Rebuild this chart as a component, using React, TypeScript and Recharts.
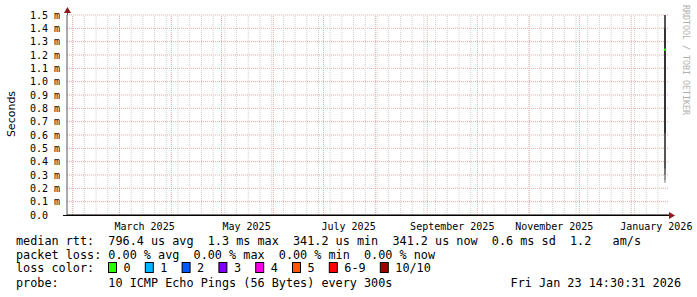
import React from "react";
import {
  ComposedChart,
  Area,
  Line,
  XAxis,
  YAxis,
  CartesianGrid,
  ReferenceLine,
} from "recharts";

const DAY = 86400000;
const END_TIME = Date.UTC(2026, 0, 23, 14, 30, 31);
const START_TIME = END_TIME - 360 * DAY;

// measurement time window (start/end of the only data column)
const sampleTimes = [Date.UTC(2026, 0, 20, 14, 30), Date.UTC(2026, 0, 21, 19, 0)];
// smoke bands (ms): sorted ping ranges, outermost first
const band1 = [0.24, 1.5];
const band2 = [0.26, 1.5];
const band3 = [0.3, 1.5];
const band4 = [0.35, 1.5];
const band5 = [0.615, 1.4];
const medianValues = [1.24, 1.24];

const bandColors = ["#bdbdbd", "#9a9a9a", "#777777", "#555555", "#333333"];

const yTicks = [0, 0.1, 0.2, 0.3, 0.4, 0.5, 0.6, 0.7, 0.8, 0.9, 1.0, 1.1, 1.2, 1.3, 1.4, 1.5];

const monthStarts: [number, number][] = [
  [2025, 1], [2025, 2], [2025, 3], [2025, 4], [2025, 5], [2025, 6],
  [2025, 7], [2025, 8], [2025, 9], [2025, 10], [2025, 11], [2026, 0],
];
const labelMonths: [number, number][] = [
  [2025, 2], [2025, 4], [2025, 6], [2025, 8], [2025, 10], [2026, 0],
];
const xLabels = ["March 2025", "May 2025", "July 2025", "September 2025", "November 2025", "January 2026"];

const lossItems = [
  { label: "0", color: "#26ff00" },
  { label: "1", color: "#00b8ff" },
  { label: "2", color: "#0059ff" },
  { label: "3", color: "#7e00ff" },
  { label: "4", color: "#ff00ea" },
  { label: "5", color: "#ff5500" },
  { label: "6-9", color: "#ff0000" },
  { label: "10/10", color: "#a10000" },
];

const legendRow1 = "median rtt:  796.4 us avg  1.3 ms max  341.2 us min  341.2 us now  0.6 ms sd  1.2   am/s";
const legendRow2 = "packet loss: 0.00 % avg  0.00 % max  0.00 % min  0.00 % now";
const legendRow3 = "loss color:";
const legendRow4 = "probe:       10 ICMP Echo Pings (56 Bytes) every 300s";
const dateStamp = "Fri Jan 23 14:30:31 2026";

const data = sampleTimes.map((t, i) => ({
  t,
  b1: band1,
  b2: band2,
  b3: band3,
  b4: band4,
  b5: band5,
  median: medianValues[i],
}));

const monthTimes = monthStarts.map(([y, m]) => Date.UTC(y, m, 1));
const labelTimes = labelMonths.map(([y, m]) => Date.UTC(y, m, 1) + 15 * DAY);
const weekTimes: number[] = [];
for (let t = Date.UTC(2025, 1, 1); t < END_TIME; t += 7 * DAY) weekTimes.push(t);

const MONO = "'DejaVu Sans Mono', monospace";
const CHAR_W = 7.1;

const YTick = (props: any) => {
  const { x, y, payload } = props;
  const v = payload.value as number;
  const txt = v === 0 ? "0.0" : `${v.toFixed(1)} m`;
  return (
    <text x={x - 29} y={y + 3.5} fontFamily={MONO} fontSize={10} fill="#000" textAnchor="start">
      {txt}
    </text>
  );
};

const XTick = (props: any) => {
  const { x, y, payload } = props;
  const idx = labelTimes.indexOf(payload.value);
  return (
    <text x={x} y={y + 7} fontFamily={MONO} fontSize={10} fill="#000" textAnchor="middle">
      {idx >= 0 ? xLabels[idx] : ""}
    </text>
  );
};

export default function App() {
  let cursor = 108;
  const lossEls = lossItems.map((it, i) => {
    const bx = cursor;
    cursor += 8 + 7.5 + it.label.length * CHAR_W + 2 * CHAR_W;
    return (
      <g key={i}>
        <rect x={bx + 0.5} y={262.5} width={8} height={10} fill={it.color} stroke="#000" strokeWidth={1} />
        <text x={bx + 15.5} y={272} fontFamily={MONO} fontSize={11.8} fill="#000" style={{ whiteSpace: "pre" }}>
          {it.label}
        </text>
      </g>
    );
  });

  return (
    <div style={{ position: "absolute", left: 0, top: 0, width: 697, height: 297, background: "#fff" }}>
      <ComposedChart
        width={697}
        height={297}
        data={data}
        margin={{ top: 15, right: 28, bottom: 0, left: 0 }}
      >
        <CartesianGrid
          vertical={false}
          horizontal={true}
          stroke="#eba3a3"
          strokeDasharray="1 1"
        />
        {weekTimes.map((t) => (
          <ReferenceLine key={"w" + t} x={t} stroke="#cfcfcf" strokeDasharray="1 1" />
        ))}
        {monthTimes.map((t) => (
          <ReferenceLine key={"m" + t} x={t} stroke="#eeaaaa" strokeDasharray="1 1" />
        ))}
        <XAxis
          dataKey="t"
          type="number"
          domain={[START_TIME, END_TIME]}
          allowDataOverflow
          ticks={labelTimes}
          tick={<XTick />}
          tickLine={false}
          axisLine={{ stroke: "#000", strokeWidth: 1 }}
          height={82}
          interval={0}
        />
        <YAxis
          type="number"
          domain={[0, 1.5]}
          allowDataOverflow
          ticks={yTicks}
          tick={<YTick />}
          tickLine={false}
          axisLine={{ stroke: "#555", strokeWidth: 1 }}
          width={67}
          interval={0}
        />
        <Area dataKey="b1" type="linear" stroke="none" fill={bandColors[0]} fillOpacity={1} isAnimationActive={false} dot={false} activeDot={false} />
        <Area dataKey="b2" type="linear" stroke="none" fill={bandColors[1]} fillOpacity={1} isAnimationActive={false} dot={false} activeDot={false} />
        <Area dataKey="b3" type="linear" stroke="none" fill={bandColors[2]} fillOpacity={1} isAnimationActive={false} dot={false} activeDot={false} />
        <Area dataKey="b4" type="linear" stroke="none" fill={bandColors[3]} fillOpacity={1} isAnimationActive={false} dot={false} activeDot={false} />
        <Area dataKey="b5" type="linear" stroke="none" fill={bandColors[4]} fillOpacity={1} isAnimationActive={false} dot={false} activeDot={false} />
        <Line dataKey="median" type="linear" stroke="#26ff00" strokeWidth={2} dot={false} activeDot={false} isAnimationActive={false} />
      </ComposedChart>
      <svg
        width={697}
        height={297}
        style={{ position: "absolute", left: 0, top: 0, pointerEvents: "none" }}
      >
        {/* axis arrows */}
        <line x1={67.5} y1={15} x2={67.5} y2={10} stroke="#555" />
        <polygon points="64,13 71,13 67.5,7" fill="#8b1a1a" />
        <line x1={63} y1={215.5} x2={669} y2={215.5} stroke="#000" />
        <polygon points="669,212 669,219 675,215.5" fill="#8b1a1a" />
        <text
          x={15}
          y={114}
          transform="rotate(-90, 15, 114)"
          fontFamily="'DejaVu Sans', sans-serif"
          fontSize={11}
          textAnchor="middle"
          fill="#000"
        >
          Seconds
        </text>
        <text
          x={683}
          y={5}
          transform="rotate(90, 683, 5)"
          fontFamily={MONO}
          fontSize={8.3}
          fill="#b0b0b0"
          textAnchor="start"
        >
          RRDTOOL / TOBI OETIKER
        </text>
        <text x={16} y={245} fontFamily={MONO} fontSize={11.8} fill="#000" style={{ whiteSpace: "pre" }}>
          {legendRow1}
        </text>
        <text x={16} y={259} fontFamily={MONO} fontSize={11.8} fill="#000" style={{ whiteSpace: "pre" }}>
          {legendRow2}
        </text>
        <text x={16} y={272} fontFamily={MONO} fontSize={11.8} fill="#000" style={{ whiteSpace: "pre" }}>
          {legendRow3}
        </text>
        {lossEls}
        <text x={16} y={287} fontFamily={MONO} fontSize={11.8} fill="#000" style={{ whiteSpace: "pre" }}>
          {legendRow4}
        </text>
        <text x={681} y={287} fontFamily={MONO} fontSize={11.8} fill="#000" textAnchor="end">
          {dateStamp}
        </text>
      </svg>
    </div>
  );
}
